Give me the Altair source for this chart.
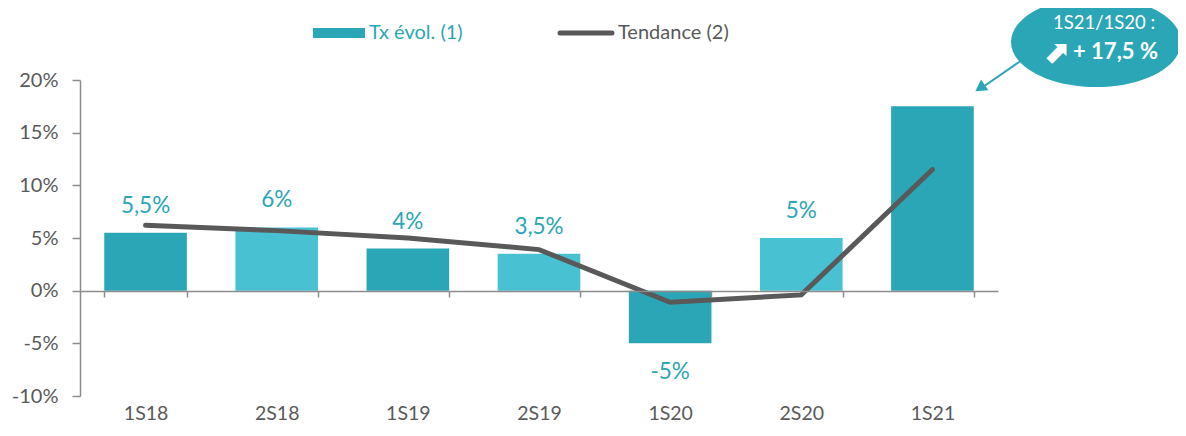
import altair as alt
import pandas as pd

categories = ["1S18", "2S18", "1S19", "2S19", "1S20", "2S20", "1S21"]
tx_evol = [5.5, 6.0, 4.0, 3.5, -5.0, 5.0, 17.5]
tendance = [6.2, 5.7, 5.0, 3.9, -1.1, -0.4, 11.5]
bar_labels = ["5,5%", "6%", "4%", "3,5%", "-5%", "5%", ""]
y_ticks = [-10, -5, 0, 5, 10, 15, 20]

DARK = "#2BA6B6"
LIGHT = "#48C1D3"
GRAY = "#595959"
AXIS = "#8C8C8C"
FONT = "Lato"

df = pd.DataFrame({"cat": categories, "tx": tx_evol, "tend": tendance, "label": bar_labels})
df["sem"] = df["cat"].str[:2]
one = pd.DataFrame({"a": [0]})

ydom = alt.Scale(domain=[-10, 20], nice=False)

x_enc = alt.X(
    "cat:N",
    sort=categories,
    scale=alt.Scale(paddingInner=0.37, paddingOuter=0.185),
    axis=alt.Axis(
        title=None, orient="bottom", offset=-105, tickBand="extent", tickSize=6,
        tickColor=AXIS, tickWidth=1.5, domainColor=AXIS, domainWidth=1.5,
        labelPadding=107, labelFontSize=19.5, labelColor=GRAY, labelFont=FONT,
        labelAngle=0, zindex=1,
    ),
)

base = alt.Chart(df)

bars = base.mark_bar().encode(
    x=x_enc,
    y=alt.Y(
        "tx:Q", scale=ydom,
        axis=alt.Axis(
            values=y_ticks, labelExpr="datum.value + '%'", title=None, grid=False,
            tickSize=8, tickColor=AXIS, tickWidth=1.5, domainColor=AXIS, domainWidth=1.5,
            labelPadding=14, labelFontSize=20, labelColor=GRAY, labelFont=FONT,
        ),
    ),
    color=alt.Color("sem:N", scale=alt.Scale(domain=["1S", "2S"], range=[DARK, LIGHT]), legend=None),
)

line = base.mark_line(color=GRAY, strokeWidth=5, strokeCap="round").encode(
    x=alt.X("cat:N", sort=categories),
    y=alt.Y("tend:Q", scale=ydom),
)

lab_pos = base.transform_filter("datum.tx >= 0").mark_text(
    dy=-27, fontSize=22.5, font=FONT, color=DARK, baseline="middle"
).encode(x=alt.X("cat:N", sort=categories), y=alt.Y("tx:Q", scale=ydom), text="label:N")

lab_neg = base.transform_filter("datum.tx < 0").mark_text(
    dy=29, fontSize=22.5, font=FONT, color=DARK, baseline="middle"
).encode(x=alt.X("cat:N", sort=categories), y=alt.Y("tx:Q", scale=ydom), text="label:N")

# Legend (manual)
leg_bar = alt.Chart(one).mark_rect(color=DARK).encode(
    x=alt.value(233), x2=alt.value(285), y=alt.value(-52), y2=alt.value(-42)
)
leg_bar_txt = alt.Chart(one).mark_text(
    text="Tx évol. (1)", align="left", baseline="middle", fontSize=20, font=FONT, color=DARK
).encode(x=alt.value(289), y=alt.value(-47))
leg_line = alt.Chart(one).mark_rule(color=GRAY, strokeWidth=5, strokeCap="round").encode(
    x=alt.value(480), x2=alt.value(532), y=alt.value(-47)
)
leg_line_txt = alt.Chart(one).mark_text(
    text="Tendance (2)", align="left", baseline="middle", fontSize=20, font=FONT, color=GRAY
).encode(x=alt.value(538), y=alt.value(-47))

# Callout
ellipse = alt.Chart(one).mark_point(
    shape="M-1,0 A1,0.53 0 1,1 1,0 A1,0.53 0 1,1 -1,0 Z",
    size=170 * 170, filled=True, color=DARK, opacity=1,
).encode(x=alt.value(1016), y=alt.value(-38))
call_t1 = alt.Chart(one).mark_text(
    text="1S21/1S20 :", fontSize=18.5, font=FONT, color="white", baseline="middle"
).encode(x=alt.value(1024), y=alt.value(-57))
call_arrow = alt.Chart(one).mark_text(
    text="⬈", fontSize=32, font="DejaVu Sans", fontWeight="bold", color="white", baseline="middle"
).encode(x=alt.value(976), y=alt.value(-27))
call_t2 = alt.Chart(one).mark_text(
    text="+ 17,5 %", fontSize=22, font=FONT, fontWeight="bold", color="white",
    baseline="middle", align="left",
).encode(x=alt.value(993), y=alt.value(-28))
arrow = alt.Chart(one).mark_rule(color=DARK, strokeWidth=2).encode(
    x=alt.value(942), y=alt.value(-20), x2=alt.value(900), y2=alt.value(9)
)
arrow_head = alt.Chart(one).mark_point(
    shape="triangle-up", filled=True, color=DARK, opacity=1, size=170, angle=236
).encode(x=alt.value(900), y=alt.value(8))

chart = alt.layer(
    bars, line, lab_pos, lab_neg,
    leg_bar, leg_bar_txt, leg_line, leg_line_txt,
    arrow, arrow_head, ellipse, call_t1, call_arrow, call_t2,
).properties(
    width=918, height=316,
    padding={"left": 72, "top": 72, "right": 180, "bottom": 32},
    autosize=alt.AutoSizeParams(type="none"),
    background="white",
).configure_view(stroke=None)

chart.save("out.html", embed_options={"renderer": "svg", "actions": False})
